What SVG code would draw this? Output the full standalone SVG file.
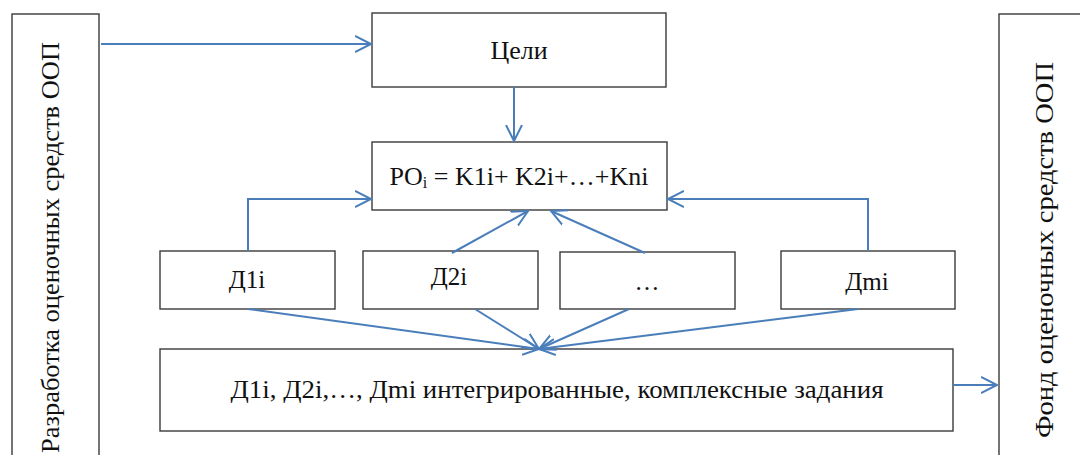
<svg xmlns="http://www.w3.org/2000/svg" width="1080" height="455" viewBox="0 0 1080 455">
<style>
.box{fill:#fff;stroke:#3a3a3a;stroke-width:1.4}
text{font-family:'Liberation Serif','Times New Roman',serif;font-size:25px;fill:#111;text-anchor:middle}
.c{fill:none;stroke:#4a7ebb;stroke-width:2}
</style>
<defs>
<marker id="ah" markerWidth="20" markerHeight="20" refX="16" refY="9" orient="auto" markerUnits="userSpaceOnUse" viewBox="0 0 20 18">
<path d="M0,1 L16,9 L0,17" fill="none" stroke="#4a7ebb" stroke-width="2"/>
</marker>
</defs>
<rect width="1080" height="455" fill="#fff"/>
<g id="node-left">
<rect class="box" x="12" y="14" width="87" height="460"/>
<text transform="translate(59,247.5) rotate(-90)" style="font-size:26px" textLength="411" lengthAdjust="spacingAndGlyphs">Разработка оценочных средств ООП</text>
</g>
<g id="node-right">
<rect class="box" x="999" y="14" width="100" height="460"/>
<text transform="translate(1053,250) rotate(-90)" style="font-size:26px" textLength="376" lengthAdjust="spacingAndGlyphs">Фонд оценочных средств ООП</text>
</g>
<g id="node-goals">
<rect class="box" x="372" y="13" width="294" height="74"/>
<text x="519" y="59" style="font-size:26px">Цели</text>
</g>
<g id="node-po">
<rect class="box" x="372" y="142" width="295" height="68"/>
<text x="519" y="185" style="font-size:26px">PO<tspan style="font-size:16px" dy="3">i</tspan><tspan dy="-3"> = K1i+ K2i+…+Kni</tspan></text>
</g>
<g id="node-d1">
<rect class="box" x="160" y="251" width="175" height="58"/>
<text x="247" y="288">Д1i</text>
</g>
<g id="node-d2">
<rect class="box" x="363" y="251" width="175" height="58"/>
<text x="449" y="285">Д2i</text>
</g>
<g id="node-dots">
<rect class="box" x="560" y="252" width="175" height="57"/>
<text x="647" y="290">…</text>
</g>
<g id="node-dm">
<rect class="box" x="781" y="251" width="174" height="58"/>
<text x="867" y="290">Дmi</text>
</g>
<g id="node-tasks">
<rect class="box" x="160" y="349" width="793" height="82"/>
<text x="557" y="398" style="font-size:26px" textLength="653" lengthAdjust="spacingAndGlyphs">Д1i, Д2i,…, Дmi  интегрированные, комплексные задания</text>
</g>
<g id="connectors">
<path class="c" d="M101,44 H371" marker-end="url(#ah)"/>
<path class="c" d="M514,87 V141" marker-end="url(#ah)"/>
<path class="c" d="M248,251 V199 H371" marker-end="url(#ah)"/>
<path class="c" d="M868,251 V199 H668" marker-end="url(#ah)"/>
<path class="c" d="M452,253 L528,211" marker-end="url(#ah)"/>
<path class="c" d="M645,253 L551,211" marker-end="url(#ah)"/>
<path class="c" d="M248,309 L539,349" marker-end="url(#ah)"/>
<path class="c" d="M475,309 L539,349" marker-end="url(#ah)"/>
<path class="c" d="M629,309 L539,349" marker-end="url(#ah)"/>
<path class="c" d="M858,309 L539,349" marker-end="url(#ah)"/>
<path class="c" d="M953,385 H997" marker-end="url(#ah)"/>
</g>
</svg>
